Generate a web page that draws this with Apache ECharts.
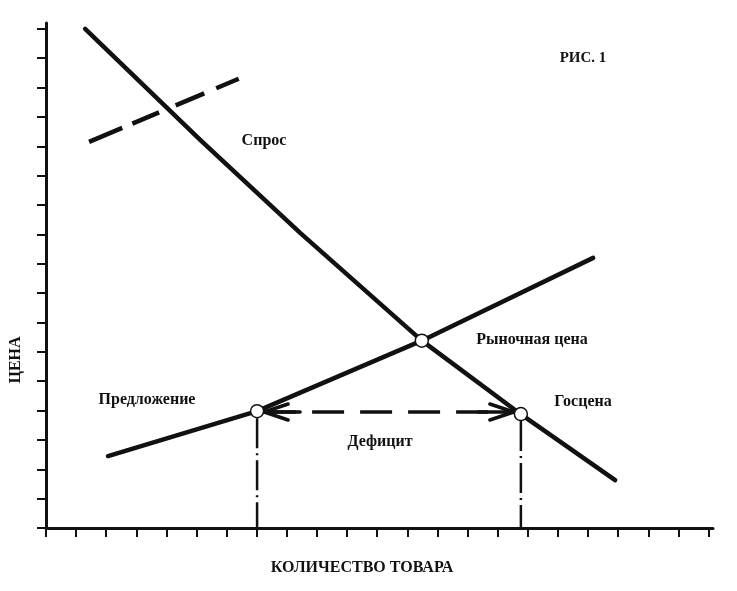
<!DOCTYPE html>
<html><head><meta charset="utf-8">
<script src="https://cdn.jsdelivr.net/npm/echarts@6/dist/echarts.min.js"></script>
<style>html,body{margin:0;padding:0;background:#fff}#c{width:737px;height:591px}</style>
</head><body><div id="c"></div>
<script>
// Axis ticks (quantity, price) – unlabeled in the original figure
const xTicks = [0,1,2,3,4,5,6,7,8,9,10,11,12,13,14,15,16,17,18,19,20,21,22];
const yTicks = [0,1,2,3,4,5,6,7,8,9,10,11,12,13,14,15,16,17];

// Demand curve ("Спрос")
const demandQ = [1.30, 5.12, 8.44, 12.48, 15.80, 18.90];
const demandP = [17.0, 13.22, 10.05, 6.38, 3.85, 1.63];

// Supply curve ("Предложение")
const supplyQ = [2.06, 7.01, 12.48, 18.17];
const supplyP = [2.45, 3.98, 6.38, 9.20];

// Shifted (dashed) line in the upper-left corner
const shiftQ = [1.43, 6.40];
const shiftP = [13.15, 15.30];

// Marked points: supply at state price, market equilibrium, demand at state price
const pointNames = ['Предложение', 'Рыночная цена', 'Госцена'];
const pointQ = [7.01, 12.48, 15.77];
const pointP = [3.98, 6.38, 3.88];

// State (ceiling) price and the deficit arrow
const statePrice = 3.95;
const deficitFrom = 7.01;
const deficitTo = 15.77;

// Vertical drop lines from the state-price points to the quantity axis
const dropQ = [7.01, 15.77];
const dropTopP = [3.98, 3.88];

const zip = (a, b) => a.map((v, i) => [v, b[i]]);
const INK = '#111';
const FONT = '"Liberation Serif", "DejaVu Serif", serif';

const chart = echarts.init(document.getElementById('c'), null, {renderer: 'canvas'});

const axisCommon = {
  type: 'value', min: 0, interval: 1,
  axisLine: {show: true, lineStyle: {color: INK, width: 3}},
  axisLabel: {show: false},
  splitLine: {show: false}
};

const label = (x, y, text, size) => ({
  type: 'text', x: x, y: y,
  style: {text: text, font: 'bold ' + size + 'px ' + FONT, fill: INK, align: 'center', verticalAlign: 'middle'}
});

const option = {
  backgroundColor: '#fff',
  animation: false,
  grid: {left: 46, right: 24, top: 23, bottom: 63, containLabel: false},
  xAxis: Object.assign({}, axisCommon, {
    max: 22.15,
    axisTick: {show: true, inside: false, length: 9, lineStyle: {color: INK, width: 2}, customValues: xTicks}
  }),
  yAxis: Object.assign({}, axisCommon, {
    max: 17.2,
    axisTick: {show: true, inside: false, length: 9, lineStyle: {color: INK, width: 2}, customValues: yTicks}
  }),
  series: [
    {
      name: 'Спрос', type: 'line', data: zip(demandQ, demandP),
      symbol: 'none', lineStyle: {color: INK, width: 4.5, cap: 'round', join: 'round'}, z: 3
    },
    {
      name: 'Предложение', type: 'line', data: zip(supplyQ, supplyP),
      symbol: 'none', lineStyle: {color: INK, width: 4.5, cap: 'round', join: 'round'}, z: 3
    },
    {
      name: 'shift', type: 'line', data: zip(shiftQ, shiftP),
      symbol: 'none', lineStyle: {color: INK, width: 4.5, type: [36, 11, 29, 18, 31, 13, 26, 10]}, z: 3
    },
    {
      name: 'drops', type: 'custom',
      data: dropQ.map((q, i) => [q, dropTopP[i]]),
      renderItem: function (params, api) {
        const top = api.coord([api.value(0), api.value(1)]);
        const bot = api.coord([api.value(0), 0]);
        return {
          type: 'line',
          shape: {x1: top[0], y1: top[1] + 7, x2: bot[0], y2: bot[1]},
          style: {stroke: INK, lineWidth: 2.5, lineDash: [30, 5, 2, 5], fill: null}
        };
      },
      z: 2
    },
    {
      name: 'Дефицит', type: 'custom',
      data: [[deficitFrom, statePrice, deficitTo, statePrice]],
      renderItem: function (params, api) {
        const a = api.coord([api.value(0), api.value(1)]);
        const b = api.coord([api.value(2), api.value(3)]);
        const dx = b[0] - a[0], dy = b[1] - a[1];
        const L = Math.hypot(dx, dy), ux = dx / L, uy = dy / L, nx = -uy, ny = ux;
        const r = 7, head = 24, spread = 8;
        const s = [a[0] + ux * r, a[1] + uy * r];
        const e = [b[0] - ux * r, b[1] - uy * r];
        const st = {stroke: INK, lineWidth: 3.5, fill: null, lineCap: 'round'};
        return {
          type: 'group',
          children: [
            {type: 'line', shape: {x1: s[0], y1: s[1], x2: e[0], y2: e[1]},
             style: Object.assign({}, st, {lineDash: [32, 16], lineCap: 'butt'})},
            {type: 'polyline', shape: {points: [
              [s[0] + ux * head + nx * spread, s[1] + uy * head + ny * spread], s,
              [s[0] + ux * head - nx * spread, s[1] + uy * head - ny * spread]]}, style: st},
            {type: 'line', shape: {x1: s[0], y1: s[1], x2: s[0] + ux * 36, y2: s[1] + uy * 36}, style: st},
            {type: 'polyline', shape: {points: [
              [e[0] - ux * head + nx * spread, e[1] - uy * head + ny * spread], e,
              [e[0] - ux * head - nx * spread, e[1] - uy * head - ny * spread]]}, style: st},
            {type: 'line', shape: {x1: e[0], y1: e[1], x2: e[0] - ux * 36, y2: e[1] - uy * 36}, style: st}
          ]
        };
      },
      z: 4
    },
    {
      name: 'points', type: 'scatter',
      data: pointQ.map((q, i) => ({name: pointNames[i], value: [q, pointP[i]]})),
      symbol: 'circle', symbolSize: 13,
      itemStyle: {color: '#fff', borderColor: INK, borderWidth: 1.5, opacity: 1},
      z: 6
    }
  ],
  graphic: [
    label(583, 58, 'РИС. 1', 15),
    label(264, 141, 'Спрос', 16),
    label(532, 340, 'Рыночная цена', 16),
    label(583, 402, 'Госцена', 16),
    label(147, 400, 'Предложение', 16),
    label(380, 442, 'Дефицит', 16),
    label(362, 568, 'КОЛИЧЕСТВО ТОВАРА', 16),
    Object.assign(label(16, 360, 'ЦЕНА', 16), {rotation: Math.PI / 2})
  ]
};
chart.setOption(option);
</script>
</body></html>
